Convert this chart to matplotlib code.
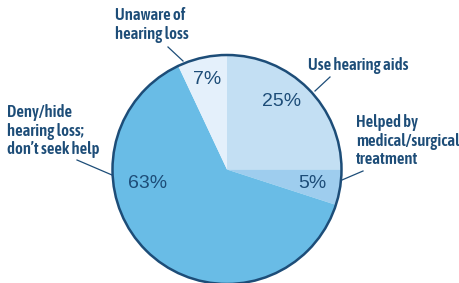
import matplotlib
matplotlib.use("Agg")
import matplotlib.pyplot as plt
from matplotlib.patches import Circle

categories = ["Use hearing aids", "Helped by\nmedical/surgical\ntreatment",
              "Deny/hide\nhearing loss;\ndon\u2019t seek help", "Unaware of\nhearing loss"]
values = [25, 5, 63, 7]
colors = ["#c3dff3", "#9ecdee", "#69bce6", "#e4f0fb"]

navy = "#1d4d78"
W, H = 459, 283
fig = plt.figure(figsize=(W / 100, H / 100), dpi=100)
ax = fig.add_axes([0, 0, 1, 1])

cx, cy, r = 227, H - 169.5, 114.5
ax.pie(values, colors=colors, startangle=90, counterclock=False,
       center=(cx, cy), radius=r, wedgeprops=dict(linewidth=0))
ax.add_patch(Circle((cx, cy), r, fill=False, edgecolor=navy, lw=1.8))

ax.set_xlim(0, W)
ax.set_ylim(0, H)
ax.set_aspect("auto")
ax.axis("off")

pct_pos = [(282, 102), (312, 183), (148, 184), (207, 79)]
for v, (x, y) in zip(values, pct_pos):
    ax.text(x, H - y, f"{v}%", ha="center", va="center", fontsize=14,
            color=navy, family=["Liberation Sans", "DejaVu Sans"])

lab_pos = [(308, 57), (356, 114), (7, 104), (115, 7)]
for c, (x, y) in zip(categories, lab_pos):
    ax.text(x, H - y, c, ha="left", va="top", fontsize=12, color=navy,
            family=["Asap Condensed", "DejaVu Sans"], fontweight=600,
            linespacing=1.12)

leaders = [((330, 77), (315, 91)), ((363, 171), (342, 180)),
           ((77, 160), (112, 175)), ((168, 47), (183, 61))]
for (x1, y1), (x2, y2) in leaders:
    ax.plot([x1, x2], [H - y1, H - y2], color=navy, lw=0.9)

fig.savefig("out.png", dpi=100)
